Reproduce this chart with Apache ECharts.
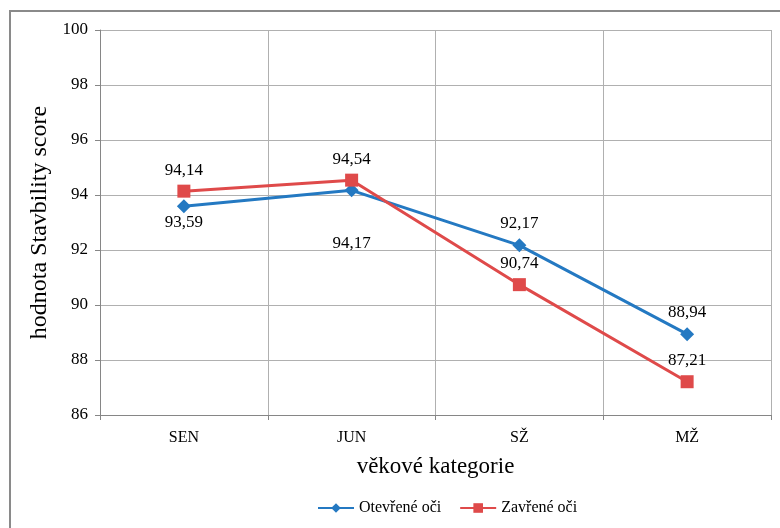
<!DOCTYPE html>
<html>
<head>
<meta charset="utf-8">
<script src="https://cdn.jsdelivr.net/npm/echarts@6/dist/echarts.min.js"></script>
<style>
  html, body { margin: 0; padding: 0; background: #fff; }
  #chart { width: 780px; height: 528px; }
</style>
</head>
<body>
<div id="chart"></div>
<script>
const categories = ['SEN', 'JUN', 'SŽ', 'MŽ'];
const openEyes = [93.59, 94.17, 92.17, 88.94];
const closedEyes = [94.14, 94.54, 90.74, 87.21];
const openLabelPos = ['bottom', 'bottom', 'top', 'top'];
const closedLabelPos = ['top', 'top', 'top', 'top'];
// extra vertical nudge for labels sitting on a line
const openLabelShift = [0, 37, 0, 0];
const closedLabelShift = [0, 0, 0, 0];

const FONT = '"Liberation Serif", "Times New Roman", serif';
const fmt = v => v.toFixed(2).replace('.', ',');

const chart = echarts.init(document.getElementById('chart'));

function seriesData(values, positions, shifts) {
  return values.map((v, i) => ({
    value: v,
    label: {
      position: positions[i],
      distance: positions[i] === 'top' ? 6 : 1,
      offset: [0, shifts[i]]
    }
  }));
}

const labelStyle = {
  show: true,
  fontFamily: FONT,
  fontSize: 17,
  color: '#000',
  formatter: p => fmt(p.value)
};

chart.setOption({
  animation: false,
  textStyle: { fontFamily: FONT },
  graphic: [{
    type: 'rect',
    shape: { x: 10, y: 11, width: 800, height: 560 },
    style: { fill: 'none', stroke: '#8a8a8a', lineWidth: 2 },
    silent: true
  }],
  grid: { left: 100, right: 9, top: 30, bottom: 113 },
  legend: {
    bottom: 7,
    left: 312,
    itemWidth: 36,
    itemHeight: 12,
    itemGap: 18,
    textStyle: { fontFamily: FONT, fontSize: 16, color: '#000' },
    data: ['Otevřené oči', 'Zavřené oči']
  },
  xAxis: {
    type: 'category',
    data: categories,
    boundaryGap: true,
    name: 'věkové kategorie',
    nameLocation: 'middle',
    nameGap: 40,
    nameTextStyle: { fontFamily: FONT, fontSize: 23, color: '#000' },
    axisLine: { lineStyle: { color: '#868686', width: 1 } },
    axisTick: { show: true, length: 5, lineStyle: { color: '#868686' } },
    axisLabel: { fontFamily: FONT, fontSize: 16, color: '#000', margin: 15 },
    splitLine: { show: true, lineStyle: { color: '#b0b0b0', width: 1 } }
  },
  yAxis: {
    type: 'value',
    min: 86,
    max: 100,
    interval: 2,
    name: 'hodnota Stavbility score',
    nameLocation: 'middle',
    nameGap: 31,
    nameTextStyle: { fontFamily: FONT, fontSize: 24, color: '#000' },
    axisLine: { show: true, lineStyle: { color: '#868686', width: 1 } },
    axisTick: { show: true, length: 5, lineStyle: { color: '#868686' } },
    axisLabel: { fontFamily: FONT, fontSize: 17, color: '#000', margin: 12 },
    splitLine: { show: true, lineStyle: { color: '#b0b0b0', width: 1 } }
  },
  series: [
    {
      name: 'Otevřené oči',
      type: 'line',
      data: seriesData(openEyes, openLabelPos, openLabelShift),
      symbol: 'diamond',
      symbolSize: 14,
      itemStyle: { color: '#2479C2' },
      lineStyle: { color: '#2479C2', width: 3 },
      label: labelStyle,
      z: 3
    },
    {
      name: 'Zavřené oči',
      type: 'line',
      data: seriesData(closedEyes, closedLabelPos, closedLabelShift),
      symbol: 'rect',
      symbolSize: 13,
      itemStyle: { color: '#DF4A4A' },
      lineStyle: { color: '#DF4A4A', width: 3 },
      label: labelStyle,
      z: 4
    }
  ]
});
</script>
</body>
</html>
